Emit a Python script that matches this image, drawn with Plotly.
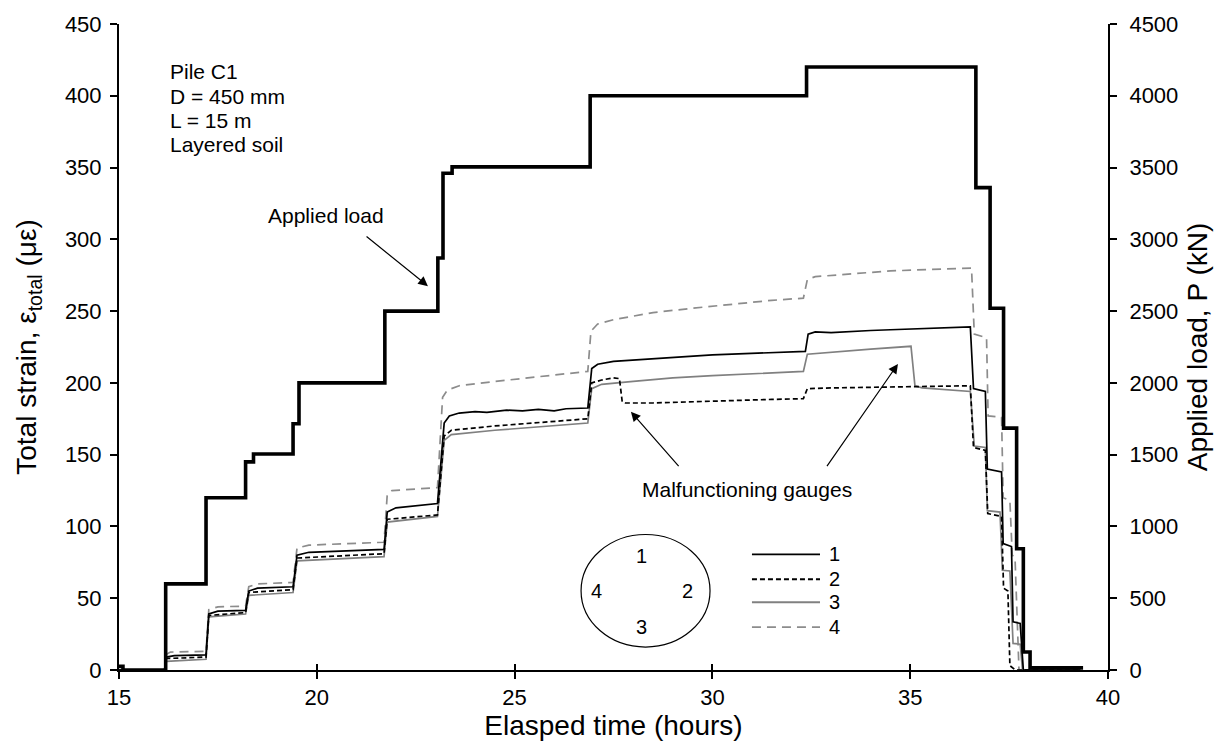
import plotly.graph_objects as go

# ---------------- data ----------------
load_time = [15.0, 15.1, 16.18, 17.2, 18.2, 18.4, 19.4, 19.55, 21.72, 23.06, 23.19, 23.42,
             26.91, 32.38, 36.66, 37.02, 37.36, 37.69, 37.86, 38.03, 39.37]
load_kN = [25, 0, 600, 1200, 1450, 1505, 1715, 2000, 2500, 2870, 3460, 3505,
           4000, 4200, 3360, 2520, 1685, 845, 125, 15, 15]

g1_time = [15.0, 16.15, 16.2, 16.4, 17.2, 17.27, 17.5, 18.2, 18.28, 18.5, 19.4, 19.5, 19.8, 21.7,
           21.78, 22.0, 23.05, 23.22, 23.35, 23.6, 24.0, 24.3, 24.8, 25.2, 25.6, 26.0, 26.3, 26.85,
           26.95, 27.1, 27.5, 28.0, 28.5, 29.0, 29.5, 30.0, 30.5, 31.0, 31.5, 32.0, 32.35,
           32.42, 32.6, 33.0, 33.5, 34.0, 34.5, 35.0, 35.5, 36.0, 36.52,
           36.6, 36.9, 36.95, 37.31, 37.35, 37.56, 37.6, 37.78, 37.86, 39.3]
g1_strain = [0, 0, 9, 10, 10.5, 39, 41, 41.5, 55, 57, 58, 80, 82, 84,
             110, 113, 116, 172, 177, 179, 180, 179.5, 181, 180.5, 181.5, 180.5, 182, 182.5,
             210, 213, 215, 216, 217, 218, 219, 219.5, 220, 220.5, 221, 221.5, 222,
             234, 235.5, 235, 236, 236.5, 237, 237.5, 238, 238.5, 239,
             196, 194, 140, 138, 88, 86, 33.5, 32.5, 0, 0]

g2_time = [15.0, 16.15, 16.2, 17.2, 17.27, 18.2, 18.28, 19.4, 19.5, 21.7, 21.78, 23.05,
           23.22, 23.4, 24.5, 25.5, 26.85, 26.95, 27.2, 27.5, 27.65, 27.72, 27.8, 28.5, 29.5,
           30.5, 31.5, 32.3, 32.4, 33.0, 34.0, 35.0, 36.52,
           36.6, 36.9, 36.96, 37.31, 37.36, 37.47, 37.52, 37.66, 39.3]
g2_strain = [0, 0, 8, 9, 38, 40, 54, 56, 78, 81, 105, 108,
             163, 167, 170, 172, 175, 200, 202, 203.5, 203, 187, 186, 186, 187,
             188, 188.5, 189, 196, 196.5, 197, 197.5, 198,
             155, 153, 109, 107, 57, 55, 3, 0, 0]

g3_time = [15.0, 16.15, 16.2, 17.2, 17.27, 18.2, 18.28, 19.4, 19.5, 21.7, 21.78, 23.05,
           23.22, 23.4, 24.5, 25.5, 26.85, 26.95, 27.2, 28.0, 29.0, 30.0, 31.0, 32.3,
           32.4, 33.0, 34.0, 35.02, 35.12, 35.3, 36.52,
           36.62, 36.9, 36.95, 37.27, 37.33, 37.52, 37.6, 37.78, 37.84, 39.3]
g3_strain = [0, 0, 6, 7.5, 37, 39, 52, 54, 76, 79, 103, 107,
             160, 164, 167, 169, 172, 196, 199, 201, 203.5, 205, 206.5, 208,
             220, 221.5, 223.5, 225.5, 198, 196.5, 194,
             156, 155, 111, 110, 69.5, 69, 18.5, 18, 0, 0]

g4_time = [15.0, 16.15, 16.2, 16.3, 17.2, 17.27, 17.5, 18.2, 18.28, 18.5, 19.4, 19.5, 19.8, 21.7,
           21.78, 21.9, 23.05, 23.18, 23.3, 23.6, 24.5, 25.5, 26.85, 26.93, 27.1, 27.5, 28.5, 29.5,
           30.5, 31.5, 32.3, 32.4, 32.6, 33.5, 34.5, 35.5, 36.55,
           36.62, 36.93, 36.97, 37.31, 37.35, 37.52, 37.58, 37.65, 37.75, 39.3]
g4_strain = [0, 0, 11, 12.5, 13, 42, 44, 44.5, 58, 60, 61, 85, 87, 89,
             122, 125, 127, 190, 195, 198, 201, 204, 208, 236, 241, 244, 249, 252,
             255, 257.5, 259, 272, 274, 276, 278, 279, 280,
             234, 231.5, 177, 176, 120, 118, 80, 78, 0, 0]

gauge_names = ["1", "2", "3", "4"]
gauge_colors = ["#000000", "#000000", "#808080", "#8c8c8c"]
gauge_dash = ["solid", "5px,3px", "solid", "9px,6px"]

FONT = "Arial, Liberation Sans, sans-serif"

fig = go.Figure()

series = [(g1_time, g1_strain), (g2_time, g2_strain), (g3_time, g3_strain), (g4_time, g4_strain)]
for idx in [3, 2, 1, 0]:
    t, s = series[idx]
    fig.add_trace(go.Scatter(x=t, y=s, mode="lines", name=gauge_names[idx],
                             line=dict(color=gauge_colors[idx], width=1.7, dash=gauge_dash[idx]),
                             showlegend=False, hoverinfo="skip"))

fig.add_trace(go.Scatter(x=load_time, y=load_kN, mode="lines", name="Applied load",
                         line=dict(color="black", width=3.6, shape="hv"),
                         yaxis="y2", showlegend=False, hoverinfo="skip"))

# helper trace so that the inside-tick axis (crossing x ticks) is drawn
fig.add_trace(go.Scatter(x=load_time, y=load_kN, mode="lines", xaxis="x3", yaxis="y2",
                         line=dict(color="rgba(0,0,0,0)", width=0), showlegend=False,
                         hoverinfo="skip"))

axis_common = dict(showgrid=False, zeroline=False, showline=True, linecolor="black",
                   linewidth=2, ticks="outside", ticklen=7, tickwidth=1.5, tickcolor="black",
                   tickfont=dict(family=FONT, size=22, color="black"))
title_font = dict(family=FONT, size=28, color="black")

fig.update_layout(
    width=1220, height=750,
    margin=dict(l=119, r=112, t=22, b=80),
    paper_bgcolor="white", plot_bgcolor="white",
    font=dict(family=FONT, color="black"),
    xaxis=dict(range=[15, 40], dtick=5, tick0=15,
               title=dict(text="Elasped time (hours)", font=title_font, standoff=4),
               **axis_common),
    xaxis3=dict(range=[15, 40], dtick=5, tick0=15, overlaying="x", showgrid=False,
                zeroline=False, showline=False, ticks="inside", ticklen=6, tickwidth=1.5,
                tickcolor="black", showticklabels=False),
    yaxis=dict(range=[0, 450], dtick=50, ticklabelstandoff=4,
               title=dict(text="Total strain, ε<sub>total</sub> (με)", font=title_font, standoff=20),
               **axis_common),
    yaxis2=dict(range=[0, 4500], dtick=500, overlaying="y", side="right", ticklabelstandoff=8,
                title=dict(text="Applied load, P (kN)", font=title_font, standoff=10),
                **axis_common),
)

ann_font = dict(family=FONT, size=21, color="black")

for txt, yy in [("Pile C1", 416.7), ("D = 450 mm", 399.3), ("L = 15 m", 382.6), ("Layered soil", 366.0)]:
    fig.add_annotation(x=16.24, y=yy, xref="x", yref="y", text=txt, showarrow=False,
                       xanchor="left", yanchor="middle", font=ann_font)

fig.add_annotation(x=20.23, y=316.7, xref="x", yref="y", text="Applied load", showarrow=False,
                   font=ann_font)
fig.add_annotation(x=22.81, y=267.4, ax=21.22, ay=302.8, xref="x", yref="y", axref="x", ayref="y",
                   text="", showarrow=True, arrowhead=2, arrowsize=1.6, arrowwidth=1.2,
                   arrowcolor="black")

fig.add_annotation(x=30.87, y=125.7, xref="x", yref="y", text="Malfunctioning gauges",
                   showarrow=False, font=ann_font)
fig.add_annotation(x=27.94, y=179.9, ax=29.18, ay=141.0, xref="x", yref="y", axref="x", ayref="y",
                   text="", showarrow=True, arrowhead=2, arrowsize=1.6, arrowwidth=1.2,
                   arrowcolor="black")
fig.add_annotation(x=34.69, y=213.2, ax=32.87, ay=141.0, xref="x", yref="y", axref="x", ayref="y",
                   text="", showarrow=True, arrowhead=2, arrowsize=1.6, arrowwidth=1.2,
                   arrowcolor="black")

fig.add_shape(type="circle", xref="x", yref="y", x0=26.68, x1=29.94, y0=16.0, y1=94.4,
              line=dict(color="black", width=1.2))
small_font = dict(family=FONT, size=20, color="black")
for txt, xx, yy in [("1", 28.22, 79.2), ("4", 27.08, 54.9), ("2", 29.38, 54.9), ("3", 28.22, 29.9)]:
    fig.add_annotation(x=xx, y=yy, xref="x", yref="y", text=txt, showarrow=False, font=small_font)

legend_y = [80.6, 63.2, 47.2, 29.9]
for i in range(4):
    fig.add_shape(type="line", xref="x", yref="y", x0=31.0, x1=32.72, y0=legend_y[i], y1=legend_y[i],
                  line=dict(color=gauge_colors[i], width=1.8, dash=gauge_dash[i]))
    fig.add_annotation(x=32.9, y=legend_y[i], xref="x", yref="y", text=gauge_names[i],
                       showarrow=False, xanchor="left", font=small_font)

fig.write_html("out.html")
